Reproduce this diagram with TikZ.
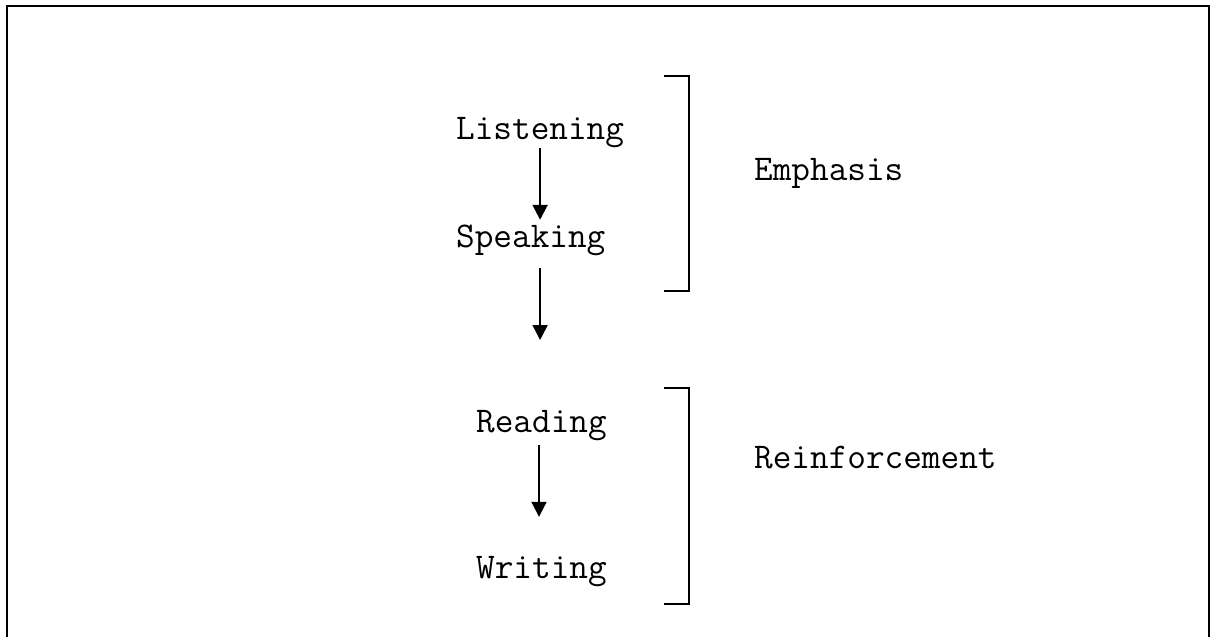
\documentclass[tikz,border=0pt]{standalone}
\usepackage{fontspec}
\usetikzlibrary{arrows.meta}
\tikzset{
  word/.style={inner sep=0pt, anchor=base west, text height=20pt, text depth=6pt,
    font=\ttfamily\fontsize{36.2pt}{40pt}\selectfont},
  flow/.style={line width=2pt, -{Triangle[width=15pt,length=15pt]}},
  brace/.style={line width=2pt},
  frame/.style={line width=2pt}
}
\begin{document}
\begin{tikzpicture}[x=1pt,y=-1pt]
  \useasboundingbox (0,0) rectangle (1213,637);
  \fill[white] (0,0) rectangle (1213,637);

  % open frame (no bottom edge)
  \draw[frame] (7,637) -- (7,6) -- (1209,6) -- (1209,637);

  % skill words
  \node[word] (listen) at (456,139) {Listening};
  \node[word] (speak)  at (456,247) {Speaking};
  \node[word] (read)   at (476,432) {Reading};
  \node[word] (write)  at (476,578) {Writing};

  % group labels
  \node[word] (emph)  at (754,180) {Emphasis};
  \node[word] (reinf) at (754,468) {Reinforcement};

  % arrows
  \coordinate (gap) at (listen.south |- 0,340);
  \coordinate (rtop) at (539,438);
  \draw[flow, shorten <=3pt, shorten >=7pt] (listen.south) -- (listen.south |- speak.north);
  \draw[flow, shorten <=15pt] (listen.south |- speak.south) -- (gap);
  \draw[flow, shorten <=7pt, shorten >=41pt] (rtop) -- (rtop |- write.north);

  % brackets
  \draw[brace] (664,76) -- (689,76) -- (689,291) -- (664,291);
  \draw[brace] (664,388) -- (689,388) -- (689,604) -- (664,604);
\end{tikzpicture}
\end{document}
